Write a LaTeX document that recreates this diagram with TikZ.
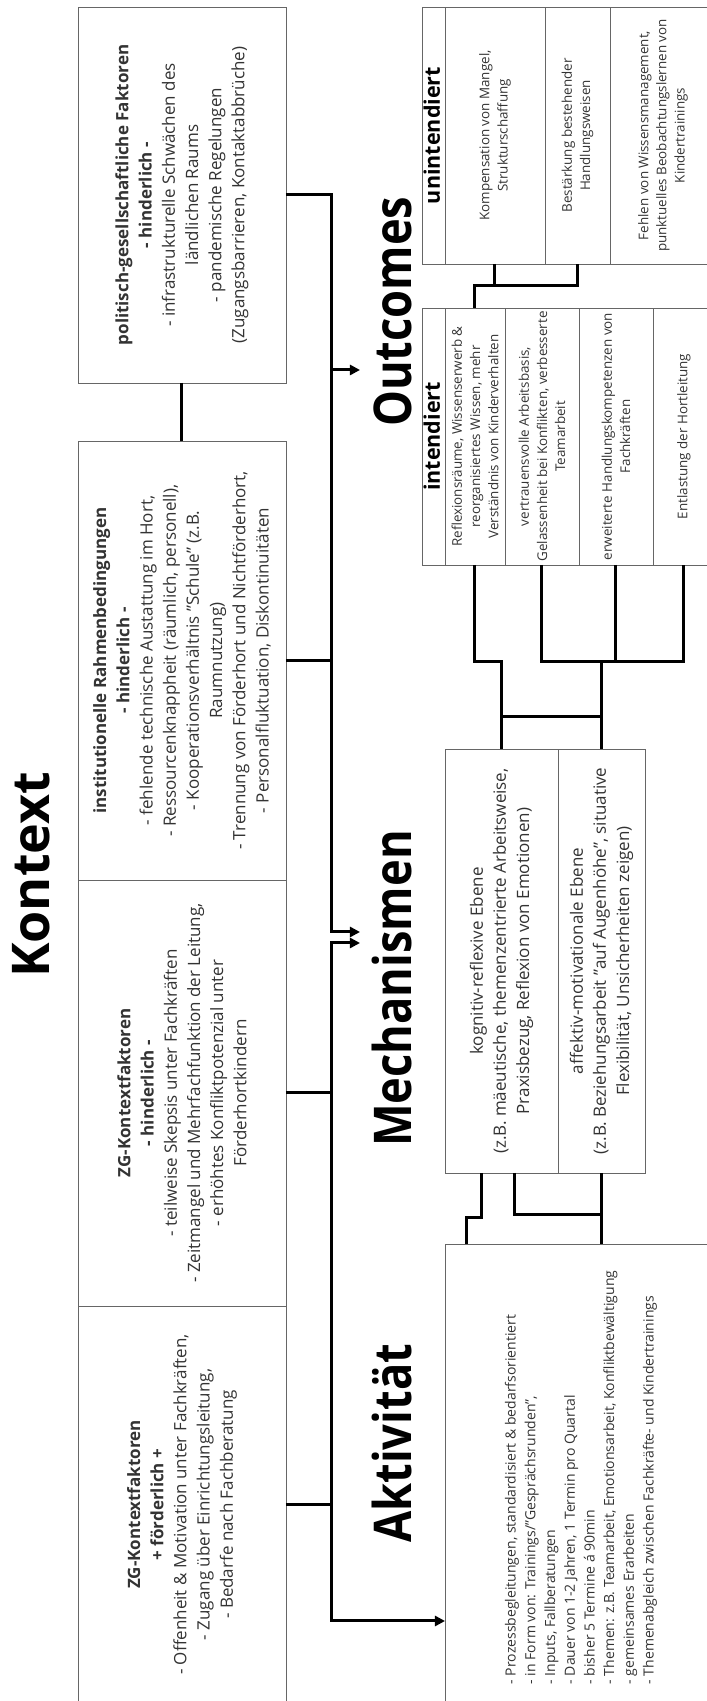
\documentclass[tikz,border=0pt]{standalone}
\usepackage{fontspec}
\setmainfont{Open Sans}
\newfontfamily\narrowtitle{Open Sans}[FakeStretch=0.87]
\usetikzlibrary{positioning, arrows.meta}

\newcommand{\ctxsize}{\fontsize{17}{23.2}\selectfont}
\newcommand{\outcsize}{\fontsize{13.4}{18.2}\selectfont}
\newcommand{\aktsize}{\fontsize{14}{19.7}\selectfont}
\newcommand{\headsize}{\fontsize{21.5}{24}\selectfont}
\newcommand{\bigtitle}{\fontsize{52}{60}\selectfont}

\begin{document}
\begin{tikzpicture}[x=1pt, y=1pt, >={Stealth[length=10pt,width=10pt,inset=0pt]}]
\begin{scope}[rotate=90, transform shape]
\useasboundingbox (0,0) rectangle (1701,707);
\clip (0,0) rectangle (1701,707);
% Define styles
\tikzstyle{ctx}=[rectangle, draw=black!60, line width=0.9pt, align=center, minimum height=208pt, inner sep=2pt, outer sep=0pt, text=black!80, font=\ctxsize]
\tikzstyle{cell}=[rectangle, draw=black!60, line width=0.9pt, align=center, minimum width=257pt, inner sep=1pt, outer sep=0pt, text=black!80, font=\outcsize]
\tikzstyle{head}=[cell, minimum height=23pt, text height=16pt, text depth=3pt, text=black, font=\headsize\bfseries]
\tikzstyle{mech}=[rectangle, draw=black!60, line width=0.9pt, align=center, minimum width=424pt, inner sep=1pt, outer sep=0pt, text=black!80, font=\ctxsize]
\tikzstyle{title}=[font=\bigtitle\bfseries, inner sep=0pt, anchor=base west]
\tikzstyle{conn}=[line width=3pt]
\tikzstyle{arrow}=[conn, ->]
% Place nodes
\node[title] (kontext) at (723,657) {Kontext};
\node[title] (outcomes) at (1274,295) {\narrowtitle Outcomes};
\node[title] (mechanismen) at (554,295) {\narrowtitle Mechanismen};
\node[title] (aktivitaet) at (158,295) {\narrowtitle Aktivität};

\node[ctx, minimum width=397pt] (zgfoerd) at (196.5,525) {\textbf{ZG-Kontextfaktoren}\\ \textbf{+ förderlich +}\\ - Offenheit \& Motivation unter Fachkräften,\\ - Zugang über Einrichtungsleitung,\\ - Bedarfe nach Fachberatung};
\node[ctx, minimum width=426pt, right=0pt of zgfoerd] (zghind) {\textbf{ZG-Kontextfaktoren}\\ \textbf{- hinderlich -}\\ - teilweise Skepsis unter Fachkräften\\ - Zeitmangel und Mehrfachfunktion der Leitung,\\ - erhöhtes Konfliktpotenzial unter\\ Förderhortkindern};
\node[ctx, minimum width=439pt, right=0pt of zghind] (inst) {\textbf{institutionelle Rahmenbedingungen}\\ \textbf{- hinderlich -}\\ - fehlende technische Austattung im Hort,\\ - Ressourcenknappheit (räumlich, personell),\\ - Kooperationsverhältnis "Schule" (z.B.\\ Raumnutzung)\\ - Trennung von Förderhort und Nichtförderhort,\\ - Personalfluktuation, Diskontinuitäten};
\node[ctx, minimum width=376pt, right=58pt of inst] (polit) {\textbf{politisch-gesellschaftliche Faktoren}\\ \textbf{- hinderlich -}\\ - infrastrukturelle Schwächen des\\ ländlichen Raums\\ - pandemische Regelungen\\ (Zugangsbarrieren, Kontaktabbrüche)};

\node[head] (unint) at (1565.5,273.5) {unintendiert};
\node[cell, minimum height=100pt, below=0pt of unint] (un1) {Kompensation von Mangel,\\ Strukturschaffung};
\node[cell, minimum height=65pt, below=0pt of un1] (un2) {Bestärkung bestehender\\ Handlungsweisen};
\node[cell, minimum height=106pt, below=0pt of un2] (un3) {Fehlen von Wissensmanagement,\\ punktuelles Beobachtungslernen von\\ Kindertrainings};

\node[head] (intend) at (1264.5,273.5) {intendiert};
\node[cell, minimum height=60pt, below=0pt of intend] (int1) {Reflexionsräume, Wissenserwerb \&\\ reorganisiertes Wissen, mehr\\ Verständnis von Kinderverhalten};
\node[cell, minimum height=74pt, below=0pt of int1] (int2) {vertrauensvolle Arbeitsbasis,\\ Gelassenheit bei Konflikten, verbesserte\\ Teamarbeit};
\node[cell, minimum height=74pt, below=0pt of int2] (int3) {erweiterte Handlungskompetenzen von\\ Fachkräften};
\node[cell, minimum height=62pt, below=0pt of int3] (int4) {Entlastung der Hortleitung};

\node[mech, minimum height=113pt] (kogn) at (740,205.5) {kognitiv-reflexive Ebene\\ (z.B. mäeutische, themenzentrierte Arbeitsweise,\\ Praxisbezug, Reflexion von Emotionen)};
\node[mech, minimum height=87pt, below=0pt of kogn] (affekt) {affektiv-motivationale Ebene\\ (z.B. Beziehungsarbeit "auf Augenhöhe", situative\\ Flexibilität, Unsicherheiten zeigen)};

\node[rectangle, draw=black!60, line width=0.9pt, align=left, minimum width=467pt, minimum height=272pt, outer sep=0pt, text=black!80, font=\aktsize] (akt) at (223.5,126) {- Prozessbegleitungen, standardisiert \& bedarfsorientiert\\ - in Form von: Trainings/"Gesprächsrunden",\\ - Inputs, Fallberatungen\\ - Dauer von 1-2 Jahren, 1 Termin pro Quartal\\ - bisher 5 Termine á 90min\\ - Themen: z.B. Teamarbeit, Emotionsarbeit, Konfliktbewältigung\\ - gemeinsames Erarbeiten\\ - Themenabgleich zwischen Fachkräfte- und Kindertrainings};

% Junction points
\coordinate (bus) at (0,375);
\coordinate (busAkt) at (80,375);
\coordinate (outA) at (1331,347);
\coordinate (mechA) at (769,347);
\coordinate (mechB) at (758,347);
\coordinate (ujoin) at (1415,0);
\coordinate (ijoin) at (1039,0);
\coordinate (xjoin) at (984,0);
\coordinate (ak1) at (483,240);
\coordinate (ak2) at (483,225);
\coordinate (ak3) at (486,192);

% Draw arrows
\draw[conn] (polit.west) -- (inst.east);
\draw[arrow] (polit.south) -- (polit.south |- bus) -- (mechA |- bus) -- (mechA);
\draw[conn] (inst.south) -- (inst.south |- bus);
\draw[arrow] (outA |- bus) -- (outA);
\draw[conn, <->] (akt.north -| busAkt) -- (busAkt) -- (mechB |- busAkt) -- (mechB);
\draw[conn] (zghind.south) -- (zghind.south |- bus);
\draw[conn] (zgfoerd.south) -- (zgfoerd.south |- bus);

\draw[conn] (un1.west) -- (un1.west -| ujoin) -- (un2.west -| ujoin) -- (un2.west);
\draw[conn] (int1.east) -- (int1.east -| ujoin) -- (un1.west -| ujoin);

\draw[conn] (int1.west) -- (int1.west -| ijoin) -- (kogn.east -| ijoin) -- (kogn.east);
\draw[conn] (int2.west) -- (int2.west -| ijoin) -- (int4.west -| ijoin) -- (int4.west);
\draw[conn] (int3.west) -- (int3.west -| ijoin);
\draw[conn] (affekt.east -| ijoin) -- (affekt.east);
\draw[conn] (kogn.east -| xjoin) -- (affekt.east -| xjoin);

\draw[conn] (akt.east |- ak1) -| (ak2) -- (kogn.west |- ak2);
\draw[conn] (akt.east |- affekt.west) -- (affekt.west);
\draw[conn] (kogn.west |- ak3) -| (ak3 |- affekt.west);
\end{scope}
\end{tikzpicture}
\end{document}
